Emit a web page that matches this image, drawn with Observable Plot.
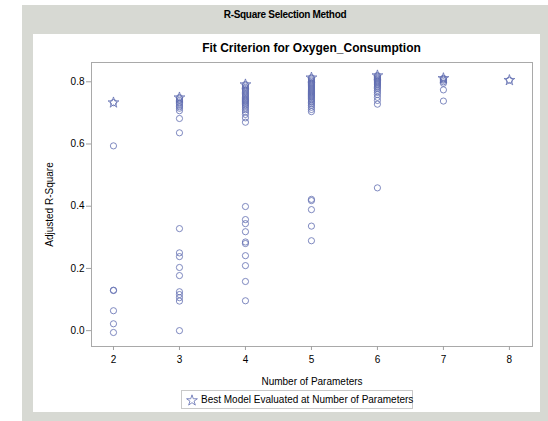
<!DOCTYPE html>
<html><head><meta charset="utf-8">
<script src="https://cdn.jsdelivr.net/npm/d3@7"></script>
<script src="https://cdn.jsdelivr.net/npm/@observablehq/plot@0.6"></script>
<style>
body{margin:0;background:#fff;font-family:"Liberation Sans",Arial,sans-serif;width:548px;height:421px;overflow:hidden;position:relative;}
#outer{position:absolute;left:22px;top:5px;width:526px;height:416px;background:#d7d9d3;}
#panel{position:absolute;left:33px;top:34px;width:507px;height:378px;background:#fff;}
#title{position:absolute;left:22px;top:9px;width:526px;text-align:center;font-size:10px;font-weight:bold;letter-spacing:-0.3px;line-height:12px;}
#subtitle{position:absolute;left:91px;top:41px;width:441px;text-align:center;font-size:12px;font-weight:bold;line-height:14px;}
#chart{position:absolute;left:33px;top:34px;}
#legend{position:absolute;left:181px;top:390px;width:232px;height:19px;border:1px solid #c9c9c9;box-sizing:border-box;font-size:10px;line-height:17px;white-space:nowrap;}
#legend svg{position:absolute;left:2px;top:1px;}
#legend span{position:absolute;left:19px;top:0px;}
</style></head>
<body>
<div id="outer"></div>
<div id="panel"></div>
<div id="title">R-Square Selection Method</div>
<div id="subtitle">Fit Criterion for Oxygen_Consumption</div>
<div id="chart"></div>
<div id="legend"><svg width="16" height="16"><path id="lstar" transform="translate(8,8.5)" fill="none" stroke="#5f6cb0" stroke-width="0.8"></path></svg><span>Best Model Evaluated at Number of Parameters</span></div>
<script>
// Number of parameters
const nParams = [2, 3, 4, 5, 6, 7, 8];
// Adjusted R-Square of every model, per number of parameters
const adj2 = [0.733, 0.594, 0.130, 0.129, 0.064, 0.022, -0.006];
const adj3 = [0.749, 0.745, 0.740, 0.735, 0.730, 0.725, 0.720, 0.715, 0.707, 0.682, 0.636,
              0.328, 0.250, 0.238, 0.203, 0.177, 0.125, 0.116, 0.106, 0.095, 0.000];
const adj4 = [0.791, 0.787, 0.782, 0.778, 0.774, 0.770, 0.766, 0.762, 0.758, 0.754, 0.750, 0.746,
              0.743, 0.740, 0.737, 0.734, 0.730, 0.726, 0.722, 0.716, 0.710, 0.703, 0.695, 0.684, 0.670,
              0.399, 0.357, 0.344, 0.318, 0.285, 0.280, 0.241, 0.209, 0.158, 0.096];
const adj5 = [0.813, 0.810, 0.806, 0.802, 0.798, 0.795, 0.792, 0.789, 0.786, 0.783, 0.780, 0.777,
              0.774, 0.771, 0.768, 0.765, 0.762, 0.759, 0.756, 0.753, 0.750, 0.746, 0.742, 0.738,
              0.734, 0.729, 0.724, 0.718, 0.711, 0.704,
              0.422, 0.418, 0.389, 0.336, 0.289];
const adj6 = [0.820, 0.817, 0.814, 0.811, 0.808, 0.805, 0.802, 0.799, 0.796, 0.793, 0.790, 0.786,
              0.782, 0.778, 0.772, 0.766, 0.759, 0.750, 0.740, 0.728, 0.459];
const adj7 = [0.811, 0.808, 0.805, 0.800, 0.795, 0.774, 0.738];
const adj8 = [0.805];
// Best model at each number of parameters
const bestAdj = [0.733, 0.749, 0.791, 0.813, 0.820, 0.811, 0.805];

const allAdj = [adj2, adj3, adj4, adj5, adj6, adj7, adj8];
const models = nParams.flatMap((p, i) => allAdj[i].map(v => ({p, adj: v})));
const best = nParams.map((p, i) => ({p, adj: bestAdj[i]}));

const col = "#5f6cb0";
const chart = Plot.plot({
  width: 507, height: 360,
  marginLeft: 58, marginRight: 8, marginTop: 28, marginBottom: 48,
  style: {fontFamily: '"Liberation Sans", Arial, sans-serif', fontSize: "10px", background: "transparent", color: "#000"},
  x: {domain: [1.667, 8.35]},
  y: {domain: [-0.051, 0.862]},
  marks: [
    Plot.frame({stroke: "#a9a9a9"}),
    Plot.axisX({ticks: nParams, tickFormat: "d", tickSize: 4, tickPadding: 5, stroke: "#a0a0a0", fill: "#000",
      label: "Number of Parameters", labelAnchor: "center", labelOffset: 38, labelArrow: "none"}),
    Plot.axisY({ticks: [0, 0.2, 0.4, 0.6, 0.8], tickFormat: ".1f", tickSize: 5, tickPadding: 2, stroke: "#a0a0a0", fill: "#000",
      label: "Adjusted R-Square", labelAnchor: "center", labelOffset: 46, labelArrow: "none"}),
    Plot.dot(models, {x: "p", y: "adj", r: 3.1, symbol: "circle", stroke: col, strokeWidth: 0.8, fill: "none"}),
    Plot.dot(best, {x: "p", y: "adj", r: 3.4, symbol: "star", stroke: col, strokeWidth: 0.8, fill: "none"})
  ]
});
document.getElementById("chart").appendChild(chart);
document.getElementById("lstar").setAttribute("d", d3.symbol(d3.symbolStar, 36)());
</script>
</body></html>
